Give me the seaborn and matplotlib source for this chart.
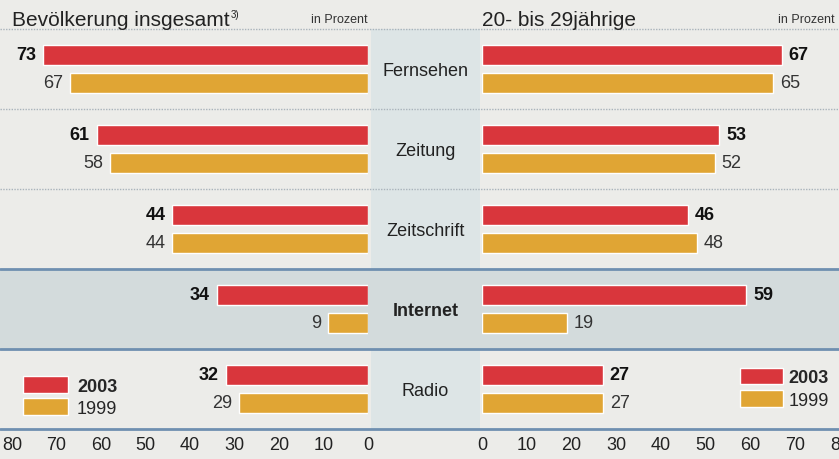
import matplotlib.pyplot as plt
import seaborn as sns
import pandas as pd

# Mediennutzung, in Prozent
medien = ["Fernsehen", "Zeitung", "Zeitschrift", "Internet", "Radio"]
jahre = ["2003", "1999"]
gesamt_2003 = [73, 61, 44, 34, 32]
gesamt_1999 = [67, 58, 44, 9, 29]
jung_2003 = [67, 53, 46, 59, 27]
jung_1999 = [65, 52, 48, 19, 27]
ticks = [0, 10, 20, 30, 40, 50, 60, 70, 80]

farben = {"2003": "#d9363c", "1999": "#e0a534"}


def long_df(v2003, v1999):
    return pd.DataFrame({
        "Medium": medien * 2,
        "Jahr": ["2003"] * len(medien) + ["1999"] * len(medien),
        "Wert": v2003 + v1999,
    })


df_gesamt = long_df(gesamt_2003, gesamt_1999)
df_jung = long_df(jung_2003, jung_1999)

sns.set_style("white")
plt.rcParams["font.family"] = ["Liberation Sans", "DejaVu Sans"]

fig = plt.figure(figsize=(8.39, 4.6), dpi=100)
fig.patch.set_facecolor("#ecece9")

bottom, height = 1 - 430 / 460, 400 / 460

# Hintergrund: Trennlinien, Schattierung, Mittelspalte
bg = fig.add_axes([0, bottom, 1, height])
bg.set_xlim(0, 1)
bg.set_ylim(4.5, -0.5)
bg.axis("off")
bg.axvspan(0.442, 0.572, color="#dde5e6", lw=0)
bg.axhspan(2.5, 3.5, color="#d3dbdc", lw=0)
for y in [-0.5, 0.5, 1.5]:
    bg.axhline(y, color="#a9b3bb", lw=1, ls=(0, (1, 1)), clip_on=False)
for y in [2.5, 3.5, 4.5]:
    bg.axhline(y, color="#6f8fb0", lw=2, clip_on=False)
for i, m in enumerate(medien):
    bg.text(0.507, i + 0.02, m, ha="center", va="center", fontsize=13,
            fontweight="bold" if m == "Internet" else "normal", color="#222222")

ax_l = fig.add_axes([12 / 839, bottom, 356 / 839, height])
ax_r = fig.add_axes([482 / 839, bottom, 358 / 839, height])

for ax, df in [(ax_l, df_gesamt), (ax_r, df_jung)]:
    sns.barplot(data=df, y="Medium", x="Wert", hue="Jahr", hue_order=jahre,
                order=medien, orient="h", palette=farben, width=0.7, gap=0.32,
                ax=ax, saturation=1)
    ax.set_facecolor("none")
    ax.set_xlim(0, 80)
    ax.set_ylim(4.5, -0.5)
    ax.set_xticks(ticks)
    ax.set_yticks([])
    ax.set_xlabel("")
    ax.set_ylabel("")
    ax.tick_params(axis="x", length=0, pad=5, labelsize=13, labelcolor="#222222")
    sns.despine(ax=ax, left=True, bottom=True)

ax_l.invert_xaxis()

# Werte an den Balkenenden (links nach außen, rechts nach außen)
for ax, richtung in [(ax_l, -1), (ax_r, 1)]:
    for k, c in enumerate(ax.containers):
        labels = ax.bar_label(c, padding=5, fontsize=13,
                              fontweight="bold" if k == 0 else "normal",
                              color="#111111" if k == 0 else "#333333")
        for t in labels:
            t.set_ha("right" if richtung < 0 else "left")
            t.xyann = (5 * richtung, 0)

sns.move_legend(ax_l, "lower left", bbox_to_anchor=(-0.015, -0.01), frameon=False,
                title=None, fontsize=13, handlelength=2.5, handleheight=1.05,
                labelspacing=0.2, handletextpad=0.5)
sns.move_legend(ax_r, "lower right", bbox_to_anchor=(1.015, 0.01), frameon=False,
                title=None, fontsize=13, handlelength=2.4, handleheight=1.0,
                labelspacing=0.25, handletextpad=0.3)
for ax in [ax_l, ax_r]:
    ax.get_legend().get_texts()[0].set_fontweight("bold")

# Überschriften
kopf = fig.text(12 / 839, 1 - 20 / 460, "Bevölkerung insgesamt", fontsize=15,
                va="center", ha="left", color="#222222")
bg.annotate("3)", xy=(1, 1), xycoords=kopf, xytext=(1, 0), textcoords="offset points",
            fontsize=7, va="top", ha="left", color="#222222", annotation_clip=False)
fig.text(368 / 839, 1 - 20 / 460, "in Prozent", fontsize=9, va="center",
         ha="right", color="#333333")
fig.text(482 / 839, 1 - 20 / 460, "20- bis 29jährige", fontsize=15,
         va="center", ha="left", color="#222222")
fig.text(835 / 839, 1 - 20 / 460, "in Prozent", fontsize=9, va="center",
         ha="right", color="#333333")

fig.savefig("out.png", dpi=100, facecolor=fig.get_facecolor())
